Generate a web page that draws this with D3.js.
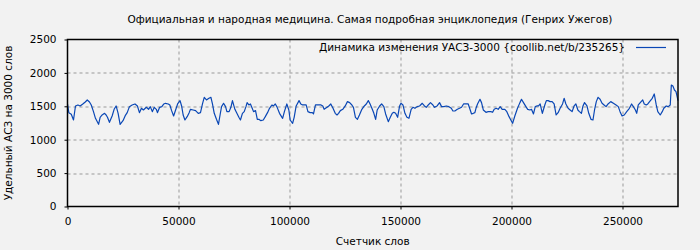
<!DOCTYPE html>
<html>
<head>
<meta charset="utf-8">
<script src="https://cdn.jsdelivr.net/npm/d3@7"></script>
<style>
  body { margin: 0; background: #f2f2f2; }
  text { font-family: "DejaVu Sans", sans-serif; font-size: 10.5px; fill: #000; }
  .grid line { stroke: #999; stroke-dasharray: 3,3; }
  .axis path { display: none; }
  .axis line { stroke: #000; }
</style>
</head>
<body>
<div id="chart"></div>
<script>
'use strict';

var title = 'Официальная и народная медицина. Самая подробная энциклопедия (Генрих Ужегов)';
var legendLabel = 'Динамика изменения УАСЗ-3000 {coollib.net/b/235265}';
var xLabel = 'Счетчик слов';
var yLabel = 'Удельный АСЗ на 3000 слов';

var xTicks = [0, 50000, 100000, 150000, 200000, 250000];
var yTicks = [0, 500, 1000, 1500, 2000, 2500];

// word counter (x) and value (y)
var counts = [
  0,600,1700,2700,3600,4700,5700,6900,8000,8900,9900,10700,11700,12600,14000,14700,15600,16700,17400,18000,
  18900,20100,21000,21900,22800,23700,25000,26000,26900,27900,29100,30400,31500,32400,33300,34200,35500,36500,37300,38200,
  39100,40000,40500,41500,42500,43400,44100,45400,
  46100,46900,47800,48700,49600,50700,51400,52100,52900,53900,54800,55400,56600,57700,58900,59900,60800,61600,62600,63700,
  64600,65300,66100,67100,68000,68800,69400,70300,71200,71800,72800,73600,74300,75400,76300,77200,77900,78800,79600,80400,
  80900,81700,82400,83200,83800,84700,85500,86200,87100,88200,89100,90100,91000,91800,
  92100,92800,93600,94300,95500,96900,97700,98800,99700,100300,101400,102100,103000,104300,105100,105900,106800,107500,108300,109300,
  110300,110800,111700,112900,114200,115000,115600,116900,117700,118600,119600,120600,121400,122100,122900,124000,125100,126100,127100,128100,
  128800,129700,130600,131500,132600,133700,134600,135500,136300,137300,
  138000,138800,139500,140600,141500,142500,143300,144500,145400,146300,147000,147800,148700,149600,150200,151100,152000,152900,153800,154800,
  155600,156500,157500,158600,159800,160800,161600,162500,163500,164600,165300,166500,167600,168500,169600,170600,171800,172900,173600,174500,
  175600,176600,177500,178400,179300,180500,181300,182000,182800,183500,
  184000,184700,185800,186500,187300,188500,189500,190700,191500,192200,193100,194000,194900,195800,197000,197900,198900,199700,200500,201500,
  202700,203800,204500,205400,206500,207300,208300,209000,209900,210700,211400,212200,212900,213900,215000,215700,216500,217400,218300,219200,
  220100,221000,221900,223000,223700,224500,225500,226400,227300,228200,229000,
  229900,230600,231500,232200,232900,234000,234800,235800,236700,237400,238200,239000,239900,240800,241700,242600,243500,244700,245900,247100,
  248100,248900,249800,250800,251900,253100,254100,254900,255800,256400,257100,258000,259100,259800,260700,261400,262200,263400,264300,265200,
  265900,267000,267900,268600,269700,270600,271500,272000,272700,273400,274100,275000
];
var values = [
  1535,1405,1380,1295,1505,1520,1505,1535,1565,1595,1565,1520,1420,1320,1230,1335,1370,1395,1370,1335,
  1260,1355,1455,1505,1395,1230,1285,1360,1405,1495,1520,1535,1505,1405,1470,1445,1485,1455,1495,1420,
  1485,1455,1405,1485,1495,1535,1545,1535,
  1520,1435,1355,1445,1535,1585,1505,1370,1295,1345,1405,1455,1445,1435,1395,1405,1535,1634,1595,1620,
  1634,1535,1395,1305,1230,1385,1495,1545,1495,1420,1420,1485,1585,1455,1395,1335,1295,1395,1420,1495,
  1555,1520,1535,1470,1420,1435,1305,1305,1285,1295,1345,1405,1470,1505,
  1520,1505,1535,1495,1395,1320,1420,1535,1445,1295,1245,1335,1505,1585,1535,1520,1520,1520,1420,1405,
  1405,1385,1520,1520,1520,1505,1455,1485,1505,1535,1470,1395,1370,1395,1435,1455,1505,1570,1555,1520,
  1485,1335,1305,1370,1455,1505,1535,1585,1535,1455,
  1395,1305,1445,1505,1535,1495,1385,1270,1335,1395,1410,1395,1335,1505,1545,1520,1395,1335,1320,1455,
  1485,1470,1495,1505,1545,1505,1485,1520,1555,1520,1485,1505,1555,1495,1495,1505,1495,1470,1430,1430,
  1455,1470,1485,1535,1535,1535,1455,1385,1395,1405,
  1470,1535,1605,1555,1445,1410,1420,1420,1410,1455,1470,1455,1495,1455,1455,1420,1345,1295,1245,1355,
  1470,1555,1605,1555,1495,1455,1445,1455,1385,1495,1505,1505,1535,1395,1520,1585,1585,1570,1570,1535,
  1370,1405,1470,1535,1620,1535,1470,1445,1420,1505,1535,
  1445,1420,1395,1505,1555,1505,1395,1305,1295,1445,1570,1634,1605,1545,1520,1495,1535,1570,1545,1520,
  1495,1420,1355,1370,1420,1470,1535,1495,1445,1395,1520,1555,1595,1535,1520,1535,1570,1620,1685,1520,
  1420,1370,1420,1470,1505,1495,1520,1818,1803,1744,1719,1585
];

var data = counts.map(function(c, i) { return { x: c, y: values[i] }; });

var W = 700, H = 250;
var margin = { top: 39.5, right: 22, bottom: 43.5, left: 67.5 },
  width = W - margin.left - margin.right,
  height = H - margin.top - margin.bottom;

var svg = d3.select('#chart').append('svg')
    .attr('width', W)
    .attr('height', H);

svg.append('rect').attr('width', W).attr('height', H).attr('fill', '#f2f2f2');

var g = svg.append('g')
    .attr('transform', 'translate(' + margin.left + ',' + margin.top + ')');

var x = d3.scaleLinear().domain([0, 275000]).range([0, width]);
var y = d3.scaleLinear().domain([0, 2500]).range([height, 0]);

// grid
g.append('g').attr('class', 'grid')
  .selectAll('line')
  .data(xTicks.filter(function(d) { return d > 0; }))
  .enter().append('line')
  .attr('x1', function(d) { return Math.round(x(d)) + 0.5; })
  .attr('x2', function(d) { return Math.round(x(d)) + 0.5; })
  .attr('y1', 0).attr('y2', height);

g.append('g').attr('class', 'grid')
  .selectAll('line')
  .data(yTicks.filter(function(d) { return d > 0 && d < 2500; }))
  .enter().append('line')
  .attr('y1', function(d) { return Math.round(y(d)) + 0.5; })
  .attr('y2', function(d) { return Math.round(y(d)) + 0.5; })
  .attr('x1', 0).attr('x2', width);

// axes
g.append('g').attr('class', 'axis')
  .attr('transform', 'translate(0,' + height + ')')
  .call(d3.axisBottom(x).tickValues(xTicks).tickSize(3).tickPadding(8).tickFormat(d3.format('d')));

g.append('g').attr('class', 'axis')
  .call(d3.axisLeft(y).tickValues(yTicks).tickSize(3).tickPadding(8).tickFormat(d3.format('d')));

// series
var line = d3.line()
  .x(function(d) { return x(d.x); })
  .y(function(d) { return y(d.y); });

g.append('path')
  .datum(data)
  .attr('fill', 'none')
  .attr('stroke', '#0a47b5')
  .attr('stroke-width', 1.2)
  .attr('stroke-linejoin', 'round')
  .attr('d', line);

// border
g.append('rect')
  .attr('width', width).attr('height', height)
  .attr('fill', 'none').attr('stroke', '#000').attr('stroke-width', 1.5);

// legend
svg.append('text')
  .attr('x', 625).attr('y', 51)
  .attr('text-anchor', 'end')
  .text(legendLabel);
svg.append('line')
  .attr('x1', 636).attr('x2', 666)
  .attr('y1', 47.5).attr('y2', 47.5)
  .attr('stroke', '#0a47b5').attr('stroke-width', 1.2);

// titles
svg.append('text')
  .attr('x', 370).attr('y', 23)
  .attr('text-anchor', 'middle')
  .text(title);

svg.append('text')
  .attr('x', margin.left + width / 2).attr('y', 245)
  .attr('text-anchor', 'middle')
  .text(xLabel);

svg.append('text')
  .attr('transform', 'translate(12,' + (margin.top + height / 2) + ') rotate(-90)')
  .attr('text-anchor', 'middle')
  .text(yLabel);
</script>
</body>
</html>
